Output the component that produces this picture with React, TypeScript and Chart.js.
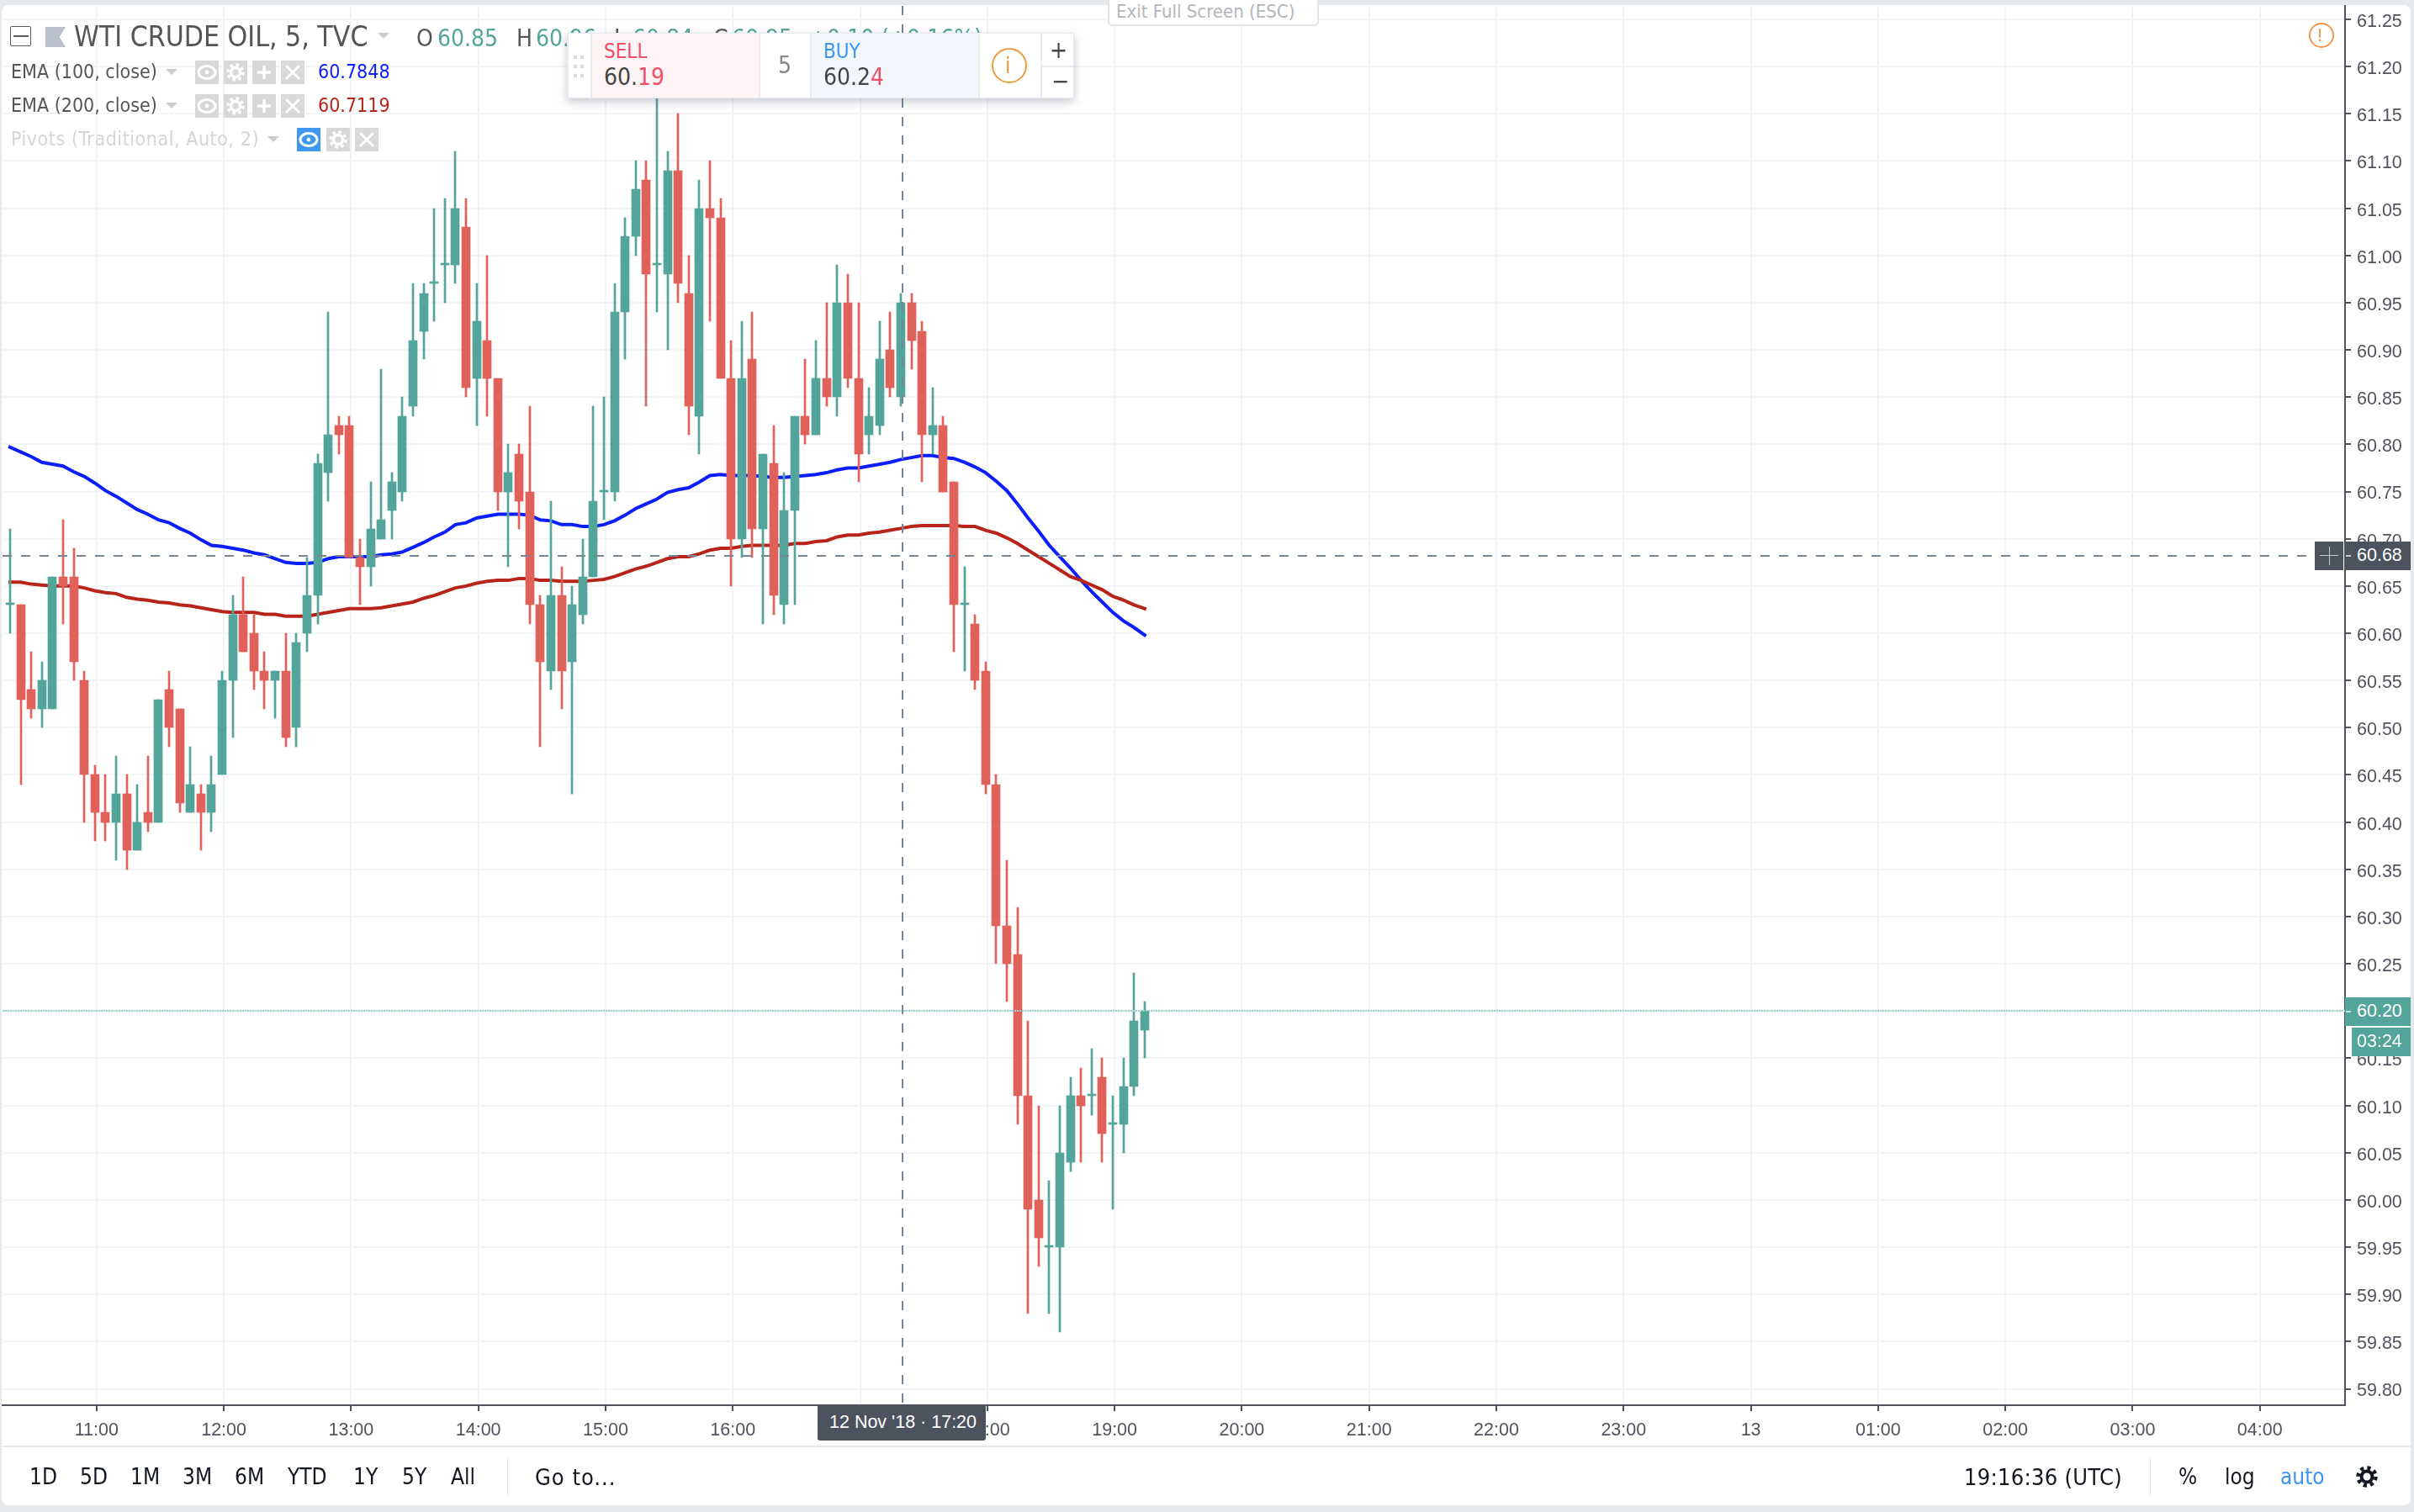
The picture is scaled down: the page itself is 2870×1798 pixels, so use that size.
import React, { useEffect, useRef } from "react";
import Chart from "chart.js/auto";

const opens = [
  60.63,60.63,60.54,60.52,60.52,60.66,60.66,60.55,60.45,60.41,
  60.40,60.43,60.37,60.41,60.40,60.54,60.52,60.41,60.43,60.41,
  60.45,60.55,60.62,60.60,60.56,60.55,60.56,60.50,60.60,60.64,
  60.77,60.82,60.82,60.68,60.67,60.70,60.73,60.75,60.84,60.92,
  60.97,60.99,60.99,61.03,60.87,60.91,60.87,60.75,60.79,60.75,
  60.63,60.56,60.64,60.57,60.62,60.66,60.75,60.75,60.94,61.02,
  61.08,60.99,60.98,61.09,60.96,60.83,61.05,61.04,60.87,60.70,
  60.89,60.71,60.78,60.63,60.73,60.83,60.81,60.87,60.85,60.95,
  60.87,60.81,60.82,60.90,60.85,60.95,60.92,60.81,60.82,60.76,
  60.63,60.61,60.56,60.44,60.29,60.26,60.11,60.00,59.95,59.95,
  60.04,60.11,60.11,60.13,60.08,60.08,60.12,60.18,
];
const highs = [
  60.71,60.63,60.58,60.57,60.66,60.72,60.69,60.56,60.46,60.45,
  60.47,60.45,60.44,60.47,60.53,60.56,60.52,60.48,60.44,60.47,
  60.56,60.64,60.66,60.62,60.58,60.56,60.60,60.60,60.68,60.79,
  60.94,60.83,60.83,60.70,60.76,60.88,60.77,60.85,60.97,60.97,
  61.05,61.06,61.11,61.06,60.97,61.00,60.87,60.80,60.80,60.84,
  60.64,60.74,60.67,60.65,60.70,60.84,60.85,60.97,61.04,61.10,
  61.10,61.17,61.11,61.15,61.00,61.08,61.10,61.06,60.91,60.93,
  60.94,60.79,60.82,60.77,60.83,60.89,60.91,60.95,60.99,60.98,
  60.95,60.86,60.93,60.94,60.96,60.96,60.93,60.86,60.83,60.76,
  60.67,60.62,60.57,60.45,60.36,60.31,60.19,60.10,60.02,60.10,
  60.13,60.14,60.16,60.15,60.11,60.15,60.24,60.21,
];
const lows = [
  60.60,60.44,60.51,60.50,60.52,60.61,60.55,60.40,60.38,60.38,
  60.36,60.35,60.37,60.39,60.40,60.48,60.41,60.41,60.37,60.39,
  60.45,60.49,60.58,60.54,60.52,60.51,60.48,60.48,60.58,60.61,
  60.74,60.79,60.68,60.63,60.65,60.70,60.70,60.74,60.83,60.89,
  60.93,60.95,60.97,60.85,60.82,60.83,60.73,60.67,60.71,60.61,
  60.48,60.54,60.52,60.43,60.61,60.66,60.72,60.74,60.89,61.00,
  60.84,60.94,60.90,60.95,60.81,60.79,60.93,60.87,60.65,60.68,
  60.68,60.61,60.62,60.61,60.63,60.80,60.81,60.84,60.83,60.86,
  60.76,60.79,60.81,60.85,60.84,60.88,60.76,60.79,60.75,60.58,
  60.56,60.54,60.43,60.25,60.21,60.08,59.88,59.93,59.88,59.86,
  60.03,60.04,60.09,60.04,59.99,60.05,60.11,60.15,
];
const closes = [
  60.63,60.53,60.52,60.55,60.66,60.65,60.57,60.45,60.41,60.40,
  60.43,60.37,60.40,60.40,60.53,60.50,60.42,60.44,60.41,60.44,
  60.55,60.62,60.58,60.56,60.55,60.56,60.49,60.59,60.64,60.78,
  60.81,60.81,60.68,60.67,60.71,60.72,60.76,60.83,60.91,60.96,
  60.97,60.99,61.05,60.86,60.93,60.87,60.75,60.77,60.74,60.63,
  60.57,60.64,60.56,60.63,60.66,60.74,60.75,60.94,61.02,61.07,
  60.98,60.99,61.09,60.97,60.84,61.05,61.04,60.87,60.70,60.87,
  60.71,60.79,60.64,60.73,60.83,60.81,60.87,60.85,60.95,60.87,
  60.79,60.83,60.89,60.86,60.95,60.91,60.81,60.82,60.75,60.63,
  60.63,60.55,60.44,60.29,60.25,60.11,59.99,59.96,59.95,60.05,
  60.11,60.10,60.11,60.07,60.08,60.12,60.19,60.20,
];
const ema100 = [
  60.797,60.792,60.787,60.781,60.779,60.777,60.771,60.766,60.759,60.751,
  60.745,60.738,60.731,60.726,60.720,60.717,60.711,60.706,60.699,60.693,
  60.692,60.690,60.688,60.685,60.683,60.679,60.675,60.674,60.674,60.675,
  60.679,60.681,60.681,60.681,60.681,60.683,60.684,60.686,60.691,60.696,
  60.702,60.707,60.715,60.717,60.722,60.724,60.726,60.726,60.726,60.725,
  60.720,60.719,60.715,60.715,60.713,60.713,60.715,60.719,60.725,60.732,
  60.737,60.742,60.749,60.752,60.754,60.760,60.767,60.768,60.767,60.767,
  60.767,60.766,60.765,60.765,60.766,60.767,60.768,60.770,60.773,60.775,
  60.775,60.777,60.779,60.781,60.784,60.786,60.788,60.788,60.786,60.785,
  60.781,60.776,60.770,60.761,60.751,60.737,60.722,60.708,60.693,60.681,
  60.669,60.656,60.644,60.633,60.622,60.613,60.606,60.598,
];
const ema200 = [
  60.654,60.654,60.652,60.651,60.650,60.650,60.650,60.648,60.645,60.643,
  60.642,60.638,60.636,60.635,60.633,60.632,60.630,60.629,60.627,60.625,
  60.623,60.622,60.622,60.622,60.620,60.620,60.618,60.618,60.618,60.620,
  60.622,60.624,60.626,60.626,60.626,60.627,60.629,60.631,60.633,60.637,
  60.640,60.644,60.648,60.650,60.653,60.655,60.656,60.656,60.658,60.658,
  60.656,60.656,60.655,60.655,60.655,60.656,60.657,60.660,60.664,60.668,
  60.671,60.675,60.679,60.681,60.681,60.684,60.688,60.690,60.690,60.692,
  60.693,60.693,60.693,60.693,60.695,60.695,60.697,60.698,60.702,60.704,
  60.704,60.706,60.707,60.709,60.711,60.713,60.714,60.714,60.714,60.714,
  60.713,60.713,60.709,60.706,60.701,60.695,60.688,60.681,60.674,60.667,
  60.660,60.656,60.651,60.646,60.639,60.635,60.630,60.626,
];
const yTicks = [
  59.80,59.85,59.90,59.95,60.00,60.05,60.10,60.15,60.20,60.25,
  60.30,60.35,60.40,60.45,60.50,60.55,60.60,60.65,60.70,60.75,
  60.80,60.85,60.90,60.95,61.00,61.05,61.10,61.15,61.20,61.25,
];
const xTickLabels = [
  "11:00","12:00","13:00","14:00","15:00","16:00","17:00","18:00","19:00",
  "20:00","21:00","22:00","23:00","13","01:00","02:00","03:00","04:00",
];
const xTickBars = [8,20,32,44,56,68,80,92,104,116,128,140,152,164,176,188,200,212];
const crossBar = 84;
const crossPrice = 60.682;
const lastPrice = 60.2;

const TEAL = "#53a49a";
const RED = "#e0605a";
const TEXT = "#50535e";
const UI_FONT = '"DejaVu Sans Condensed","DejaVu Sans",sans-serif';
const AXIS_FONT = '"Liberation Sans",Arial,sans-serif';

const T = ({ x, cy, size, color, children, font, spacing }: any) => (
  <div
    style={{
      position: "absolute",
      left: x,
      top: cy,
      transform: "translateY(-50%)",
      fontFamily: font || UI_FONT,
      fontStretch: "condensed",
      fontSize: size,
      letterSpacing: spacing,
      lineHeight: 1,
      color,
      whiteSpace: "pre",
    }}
  >
    {children}
  </div>
);

const Box = ({ x, y, w, h, bg, style }: any) => (
  <div style={{ position: "absolute", left: x, top: y, width: w, height: h, background: bg, ...style }} />
);

const Caret = ({ x, y, w = 15, color = "#c9cbd0" }: any) => (
  <div
    style={{
      position: "absolute",
      left: x,
      top: y,
      width: 0,
      height: 0,
      borderLeft: `${w / 2}px solid transparent`,
      borderRight: `${w / 2}px solid transparent`,
      borderTop: `${w / 2}px solid ${color}`,
    }}
  />
);

const Btn = ({ x, y, kind, bg = "#d8d8d8" }: any) => (
  <svg style={{ position: "absolute", left: x, top: y }} width={28} height={28} viewBox="0 0 28 28">
    <rect width={28} height={28} fill={bg} />
    {kind === "eye" && (
      <g fill="none" stroke="#fff" strokeWidth={3}>
        <ellipse cx={14} cy={14} rx={10} ry={7.5} />
        <circle cx={14} cy={14} r={2} fill="#fff" strokeWidth={1} />
      </g>
    )}
    {kind === "gear" && (
      <g fill="none" stroke="#fff">
        <circle cx={14} cy={14} r={5.5} strokeWidth={3.5} />
        <circle cx={14} cy={14} r={9} strokeWidth={3.5} strokeDasharray="3.6 3.5" />
      </g>
    )}
    {kind === "plus" && <path d="M14 6V22M6 14H22" stroke="#fff" strokeWidth={3.5} />}
    {kind === "x" && <path d="M6 6L22 22M22 6L6 22" stroke="#fff" strokeWidth={3} />}
  </svg>
);

const overlayPlugin = {
  id: "overlay",
  afterDatasetsUpdate(chart: any) {
    chart.getSortedVisibleDatasetMetas().forEach((m: any) => {
      if (m.type !== "bar") return;
      m.data.forEach((el: any) => {
        el.x = Math.round(el.x);
        el.y = Math.round(el.y);
        el.base = Math.round(el.base);
      });
    });
  },
  beforeDraw(chart: any) {
    chart.scales.y.getLabelItems(chart.chartArea).forEach((item: any) => {
      if (!item.__shifted) {
        item.textOffset += 3;
        item.__shifted = true;
      }
    });
  },
  afterDatasetsDraw(chart: any) {
    const { ctx, chartArea: a, scales } = chart;
    ctx.save();
    ctx.lineWidth = 2;
    const py = Math.round(scales.y.getPixelForValue(lastPrice));
    ctx.strokeStyle = "#9ccfc9";
    ctx.setLineDash([2, 1]);
    ctx.beginPath();
    ctx.moveTo(a.left, py);
    ctx.lineTo(a.right, py);
    ctx.stroke();
    ctx.strokeStyle = "#758696";
    ctx.setLineDash([11, 11]);
    const cy = Math.round(scales.y.getPixelForValue(crossPrice));
    ctx.beginPath();
    ctx.moveTo(a.left, cy);
    ctx.lineTo(a.right, cy);
    ctx.stroke();
    const cx = Math.round(scales.x.getPixelForValue(crossBar + 0.16));
    ctx.beginPath();
    ctx.moveTo(cx, a.top);
    ctx.lineTo(cx, a.bottom);
    ctx.stroke();
    ctx.restore();
  },
};

const noPad = (s: any) => {
  s.paddingTop = 0;
  s.paddingBottom = 0;
  s.paddingLeft = 0;
  s.paddingRight = 0;
};

export default function App() {
  const ref = useRef<HTMLCanvasElement>(null);
  useEffect(() => {
    document.body.style.margin = "0";
    document.body.style.background = "#e6e9ec";
    const isUp = (i: number) => closes[i] >= opens[i];
    const color = (c: any) => (isUp(c.dataIndex) ? TEAL : RED);
    const chart = new Chart(ref.current as any, {
      type: "bar",
      data: {
        datasets: [
          {
            type: "bar",
            order: 1,
            data: opens.map((o, i) => ({ x: i, y: [o, closes[i]] })),
            backgroundColor: color,
            grouped: false,
            barPercentage: 1,
            categoryPercentage: 1,
            maxBarThickness: 10,
            minBarLength: 2,
            borderWidth: 0,
          },
          {
            type: "bar",
            order: 2,
            data: lows.map((l, i) => ({ x: i, y: [l, highs[i]] })),
            backgroundColor: color,
            grouped: false,
            barPercentage: 1,
            categoryPercentage: 1,
            maxBarThickness: 2,
            borderWidth: 0,
          },
          {
            type: "line",
            order: 3,
            data: ema200.map((y, i) => ({ x: i, y })),
            borderColor: "#b9241a",
            borderWidth: 4,
            borderCapStyle: "square",
            pointRadius: 0,
            tension: 0,
          },
          {
            type: "line",
            order: 4,
            data: ema100.map((y, i) => ({ x: i, y })),
            borderColor: "#0a1eff",
            borderWidth: 4,
            borderCapStyle: "square",
            pointRadius: 0,
            tension: 0,
          },
        ],
      } as any,
      options: {
        animation: false,
        responsive: false,
        devicePixelRatio: 1,
        layout: { padding: { left: 3, top: 7, right: 0, bottom: 0 } },
        plugins: { legend: { display: false }, tooltip: { enabled: false } },
        scales: {
          x: {
            type: "linear",
            offset: false,
            min: -0.706,
            max: 220.19,
            afterFit: (s: any) => {
              s.height = 127;
              noPad(s);
            },
            afterBuildTicks: (s: any) => {
              s.ticks = xTickBars.map((value) => ({ value: value + 0.16 }));
            },
            grid: { offset: false, color: "#f0f3f6", lineWidth: 2, tickColor: "#50535e", tickLength: 7, tickWidth: 2 },
            border: { color: "#50535e", width: 2 },
            ticks: {
              autoSkip: false,
              maxRotation: 0,
              padding: 10,
              color: TEXT,
              font: { family: AXIS_FONT, size: 21.5 },
              callback: (_v: any, i: number) => xTickLabels[i],
            },
          },
          y: {
            position: "right",
            min: 59.7827,
            max: 61.2642,
            afterFit: (s: any) => {
              s.width = 82;
              noPad(s);
            },
            afterBuildTicks: (s: any) => {
              s.ticks = yTicks.map((value) => ({ value }));
            },
            grid: { color: "#f2f4f6", lineWidth: 2, tickColor: "#50535e", tickLength: 7, tickWidth: 2 },
            border: { color: "#50535e", width: 2 },
            ticks: {
              autoSkip: false,
              padding: 7,
              color: TEXT,
              font: { family: AXIS_FONT, size: 21.5 },
              callback: (v: any) => Number(v).toFixed(2),
            },
          },
        },
      } as any,
      plugins: [overlayPlugin as any],
    });
    return () => chart.destroy();
  }, []);

  return (
    <div style={{ position: "absolute", left: 0, top: 0, width: 2870, height: 1798, overflow: "hidden", background: "#e6e9ec" }}>
      <Box x={2} y={6} w={2864} h={1784} bg="#fff" style={{ borderRadius: 8 }} />
      <canvas ref={ref} width={2870} height={1798} style={{ position: "absolute", left: 0, top: 0, width: 2870, height: 1798 }} />

      {/* header */}
      <Box x={12} y={31} w={25} h={24} bg="transparent" style={{ border: "1.5px solid #5a5a5a", boxSizing: "border-box", borderRadius: 2 }} />
      <Box x={16} y={42} w={18} h={2} bg="#5a5a5a" />
      <Box x={54} y={32} w={24} h={24} bg="#bcc0cb" style={{ clipPath: "polygon(0 0,100% 0,70% 50%,100% 100%,0 100%)" }} />
      <T x={88} cy={44} size={33.5} color="#555">WTI CRUDE OIL, 5, TVC</T>
      <Caret x={449} y={39} />
      <T x={495} cy={46} size={28} color="#555">O</T>
      <T x={520} cy={46} size={28} color={TEAL}>60.85</T>
      <T x={614} cy={46} size={28} color="#555">H</T>
      <T x={637} cy={46} size={28} color={TEAL}>60.96</T>
      <T x={730} cy={46} size={28} color="#555">L</T>
      <T x={752} cy={46} size={28} color={TEAL}>60.84</T>
      <T x={848} cy={46} size={28} color="#555">C</T>
      <T x={870} cy={46} size={28} color={TEAL}>60.95</T>
      <T x={962} cy={46} size={28} color={TEAL}>+0.10 (+0.16%)</T>

      <T x={13} cy={85} size={23} color="#555">EMA (100, close)</T>
      <Caret x={197} y={82} />
      <Btn x={232} y={72} kind="eye" />
      <Btn x={266} y={72} kind="gear" />
      <Btn x={300} y={72} kind="plus" />
      <Btn x={334} y={72} kind="x" />
      <T x={378} cy={85} size={23} color="#0a1eff">60.7848</T>

      <T x={13} cy={125} size={23} color="#555">EMA (200, close)</T>
      <Caret x={197} y={122} />
      <Btn x={232} y={112} kind="eye" />
      <Btn x={266} y={112} kind="gear" />
      <Btn x={300} y={112} kind="plus" />
      <Btn x={334} y={112} kind="x" />
      <T x={378} cy={125} size={23} color="#b9241a">60.7119</T>

      <T x={13} cy={165} size={23} color="#d3d5d9" spacing={0.55}>Pivots (Traditional, Auto, 2)</T>
      <Caret x={318} y={162} />
      <Btn x={353} y={152} kind="eye" bg="#3d98ef" />
      <Btn x={388} y={152} kind="gear" />
      <Btn x={422} y={152} kind="x" />

      {/* trading panel */}
      <Box x={674} y={39} w={603} h={78} bg="#e7eaee" style={{ boxShadow: "0 4px 10px rgba(90,100,120,0.35)" }} />
      <Box x={676} y={40} w={26} h={76} bg="#fff" />
      <Box x={704} y={40} w={198} h={76} bg="#fef4f5" />
      <Box x={904} y={40} w={59} h={76} bg="#fff" />
      <Box x={965} y={40} w={198} h={76} bg="#f2f7fe" />
      <Box x={1165} y={40} w={72} h={76} bg="#fff" />
      <Box x={1239} y={40} w={37} h={76} bg="#fff" />
      <Box x={1239} y={78} w={37} h={2} bg="#e7eaee" />
      {[0, 1].map((c) => [0, 1, 2].map((r) => <Box key={`${c}${r}`} x={682 + c * 8} y={66 + r * 11} w={4} h={4} bg="#d8dade" />))}
      <T x={718} cy={61} size={24} color="#ef5068">SELL</T>
      <T x={718} cy={92} size={28} color="#444">60.<span style={{ color: "#ef5068" }}>19</span></T>
      <T x={925} cy={78} size={28} color="#888">5</T>
      <T x={979} cy={61} size={24} color="#3b96f0">BUY</T>
      <T x={979} cy={92} size={28} color="#444">60.2<span style={{ color: "#ef5068" }}>4</span></T>
      <div style={{ position: "absolute", left: 1179, top: 57, width: 42, height: 42, boxSizing: "border-box", border: "2.5px solid #ec9a3c", borderRadius: "50%" }} />
      <T x={1195} cy={78} size={26} color="#ec9a3c">i</T>
      <T x={1248} cy={60} size={28} color="#444">+</T>
      <T x={1250} cy={97} size={28} color="#444">−</T>

      {/* exit full screen */}
      <Box x={1317} y={-3} w={251} h={34} bg="#fff" style={{ border: "2px solid #e2e4e8", borderRadius: 5, boxSizing: "border-box" }} />
      <T x={1327} cy={14} size={22} color="#b4b6ba">Exit Full Screen (ESC)</T>

      {/* warning */}
      <div style={{ position: "absolute", left: 2745, top: 27, width: 30, height: 30, boxSizing: "border-box", border: "2.5px solid #f7954f", borderRadius: "50%" }} />
      <T x={2755} cy={42} size={22} color="#f7954f" font={AXIS_FONT}>!</T>

      {/* price labels */}
      <Box x={2752} y={644} w={34} h={34} bg="#4c525e" />
      <Box x={2758} y={660} w={22} h={1} bg="#c6c8cc" />
      <Box x={2769} y={650} w={1} h={22} bg="#c6c8cc" />
      <Box x={2788} y={644} w={78} h={34} bg="#4c525e" />
      <Box x={2789} y={660} w={6} h={2} bg="#c6c8cc" />
      <T x={2802} cy={661} size={21.5} color="#fff" font={AXIS_FONT}>60.68</T>
      <Box x={2788} y={1186} w={78} h={34} bg={TEAL} />
      <Box x={2789} y={1202} w={6} h={2} bg="#cfe6e3" />
      <T x={2802} cy={1203} size={21.5} color="#fff" font={AXIS_FONT}>60.20</T>
      <Box x={2796} y={1222} w={70} h={34} bg={TEAL} />
      <T x={2802} cy={1239} size={21.5} color="#fff" font={AXIS_FONT}>03:24</T>

      {/* time label */}
      <Box x={972} y={1672} w={200} h={41} bg="#4c525e" style={{ borderRadius: "0 0 3px 3px" }} />
      <T x={986} cy={1692} size={21.5} color="#fff" font={AXIS_FONT}>12 Nov '18 · 17:20</T>

      {/* bottom bar */}
      <Box x={2} y={1719} w={2864} h={2} bg="#e6e9ec" />
      {[
        ["1D", 35],
        ["5D", 95],
        ["1M", 155],
        ["3M", 217],
        ["6M", 279],
        ["YTD", 342],
        ["1Y", 420],
        ["5Y", 478],
        ["All", 536],
      ].map(([t, x]) => (
        <T key={t as string} x={x} cy={1756} size={26} color="#131722">{t}</T>
      ))}
      <Box x={603} y={1732} w={1} h={46} bg="#e6e9ec" />
      <T x={636} cy={1756} size={27} color="#131722" spacing={1}>Go to...</T>
      <T x={2335} cy={1756} size={27} color="#131722" spacing={0.3}>19:16:36 (UTC)</T>
      <Box x={2556} y={1732} w={1} h={46} bg="#e6e9ec" />
      <T x={2590} cy={1756} size={26} color="#131722">%</T>
      <T x={2645} cy={1756} size={26} color="#131722">log</T>
      <T x={2711} cy={1756} size={26} color="#3b96f0">auto</T>
      <svg style={{ position: "absolute", left: 2800, top: 1742 }} width={28} height={28} viewBox="0 0 28 28">
        <g fill="none" stroke="#131722">
          <circle cx={14} cy={14} r={6.5} strokeWidth={4} />
          <circle cx={14} cy={14} r={10.5} strokeWidth={4.5} strokeDasharray="4.1 4.15" />
        </g>
      </svg>
    </div>
  );
}
